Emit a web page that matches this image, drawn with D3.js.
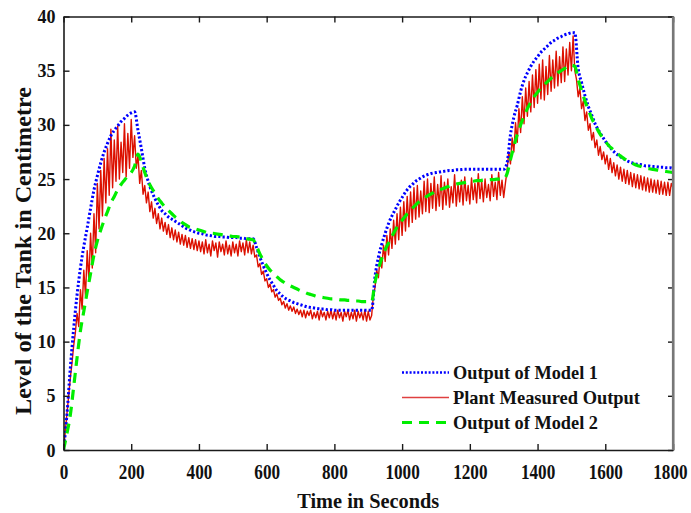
<!DOCTYPE html>
<html>
<head>
<meta charset="utf-8">
<script src="https://cdn.jsdelivr.net/npm/d3@7"></script>
<style>
  html, body { margin: 0; padding: 0; background: #fff; }
  svg { display: block; }
  text { font-family: "Liberation Serif", "Times New Roman", serif; font-weight: bold; fill: #111; }
</style>
</head>
<body>
<svg id="chart" width="691" height="513"></svg>
<script>
// ---------------- DATA ----------------
const xTicks = [0, 200, 400, 600, 800, 1000, 1200, 1400, 1600, 1800];
const yTicks = [0, 5, 10, 15, 20, 25, 30, 35, 40];
const xTitle = "Time in Seconds";
const yTitle = "Level of the Tank in Centimetre";
const seriesNames = ["Output of Model 1", "Plant Measured Output", "Output of Model 2"];

// model sample times (s) and plant sample times (s)
const modelTime = d3.range(0, 1801, 10);
const plantTime = d3.range(0, 1801, 5);

// Output of Model 1 (every 10 s)
const model1 = [
  0, 3.2, 7.5, 11.2, 14.3, 16.8, 18.8, 20.5, 22.3, 24.0,
  25.3, 26.5, 27.5, 28.3, 29.0, 29.5, 29.9, 30.3, 30.6, 30.9,
  31.1, 31.2, 29.5, 27.8, 26.0, 24.8, 23.9, 23.2, 22.6, 22.1,
  21.8, 21.5, 21.3, 21.1, 20.9, 20.7, 20.5, 20.35, 20.2, 20.1,
  20.0, 19.95, 19.85, 19.8, 19.75, 19.7, 19.7, 19.65, 19.65, 19.6,
  19.6, 19.6, 19.55, 19.55, 19.5, 19.5, 19.5, 18.7, 17.8, 17.0,
  16.3, 15.7, 15.2, 14.7, 14.4, 14.1, 13.9, 13.75, 13.6, 13.5,
  13.4, 13.3, 13.2, 13.15, 13.1, 13.05, 13.0, 13.0, 12.95, 12.95,
  12.9, 12.9, 12.9, 12.9, 12.9, 12.9, 12.9, 12.9, 12.9, 12.9,
  12.9, 12.9, 16.0, 17.8, 19.0, 20.0, 20.9, 21.6, 22.2, 22.8,
  23.3, 23.8, 24.2, 24.5, 24.8, 25.0, 25.2, 25.35, 25.45, 25.55,
  25.6, 25.65, 25.7, 25.75, 25.8, 25.8, 25.85, 25.85, 25.9, 25.9,
  25.9, 25.9, 25.9, 25.9, 25.9, 25.9, 25.9, 25.9, 25.9, 25.9,
  25.9, 26.5, 29.1, 30.7, 31.8, 33.1, 34.1, 34.8, 35.4, 35.9,
  36.3, 36.7, 37.0, 37.3, 37.6, 37.8, 38.0, 38.15, 38.3, 38.4,
  38.5, 38.5, 35.2, 33.9, 32.7, 31.7, 30.9, 30.1, 29.5, 29.0,
  28.5, 28.1, 27.7, 27.4, 27.15, 26.95, 26.75, 26.6, 26.5, 26.4,
  26.35, 26.3, 26.2, 26.2, 26.15, 26.15, 26.1, 26.1, 26.05, 26.05,
  26.0
];

// Output of Model 2 (every 10 s)
const model2 = [
  0, 1.5, 3.2, 5.8, 8.5, 11.0, 12.8, 14.6, 16.3, 18.0,
  19.3, 20.3, 21.2, 22.0, 22.8, 23.4, 24.0, 24.5, 24.9, 25.3,
  25.6, 26.2, 27.3, 26.6, 25.6, 24.8, 24.2, 23.7, 23.2, 22.8,
  22.4, 22.1, 21.8, 21.5, 21.3, 21.0, 20.8, 20.6, 20.5, 20.4,
  20.3, 20.2, 20.1, 20.0, 20.0, 19.95, 19.9, 19.85, 19.8, 19.75,
  19.7, 19.7, 19.65, 19.6, 19.5, 19.45, 19.4, 18.8, 18.1, 17.5,
  17.0, 16.6, 16.3, 16.0, 15.7, 15.5, 15.3, 15.15, 15.0, 14.85,
  14.7, 14.6, 14.45, 14.35, 14.25, 14.15, 14.1, 14.05, 14.0, 13.95,
  13.95, 13.9, 13.85, 13.85, 13.8, 13.8, 13.75, 13.75, 13.7, 13.7,
  13.7, 13.7, 15.5, 16.7, 17.7, 18.5, 19.1, 19.7, 20.3, 20.8,
  21.2, 21.6, 22.0, 22.3, 22.6, 22.9, 23.1, 23.35, 23.55, 23.7,
  23.9, 24.0, 24.1, 24.25, 24.35, 24.45, 24.55, 24.6, 24.65, 24.7,
  24.75, 24.8, 24.85, 24.85, 24.9, 24.9, 24.95, 24.95, 25.0, 25.0,
  25.0, 25.5, 26.8, 28.0, 29.1, 30.0, 30.8, 31.5, 32.1, 32.6,
  33.0, 33.4, 33.7, 34.0, 34.3, 34.55, 34.8, 35.0, 35.2, 35.4,
  35.5, 35.4, 34.2, 33.2, 32.2, 31.4, 30.6, 30.0, 29.4, 28.9,
  28.5, 28.1, 27.8, 27.5, 27.25, 27.0, 26.8, 26.6, 26.45, 26.3,
  26.2, 26.1, 26.0, 25.95, 25.9, 25.85, 25.8, 25.75, 25.7, 25.65,
  25.6
];

// Plant Measured Output (every 5 s)
const plant = [
  0, 1.6, 3.3, 4.9, 6.6, 8.0, 9.6, 10.8, 12.6, 11.4, 14.8, 13.0, 16.6, 14.2, 18.4, 15.6, 20.0, 16.8, 21.8, 18.2,
  24.6, 20.4, 25.8, 21.6, 26.9, 22.8, 27.8, 23.5, 29.6, 24.2, 28.6, 24.8, 29.9, 25.0, 28.4, 25.6, 30.1, 25.2, 29.2, 26.0,
  30.5, 27.0, 29.0, 26.0, 27.2, 24.6, 25.8, 23.6, 24.4, 22.8, 23.8, 22.0, 22.9, 21.4, 22.3, 20.9, 21.8, 20.4, 21.4, 20.2,
  21.0, 19.9, 20.8, 19.6, 20.5, 19.4, 20.3, 19.2, 20.1, 19.0, 19.9, 18.9, 19.8, 18.7, 19.6, 18.6, 19.5, 18.5, 19.4, 18.4,
  19.3, 18.3, 19.2, 18.1, 19.4, 18.2, 19.0, 17.9, 19.3, 18.4, 19.1, 17.8, 19.2, 18.3, 19.0, 18.0, 19.3, 18.1, 18.9, 17.9,
  19.2, 18.2, 19.0, 17.9, 19.3, 18.3, 19.1, 18.0, 19.4, 18.2, 19.2, 18.1, 18.9, 17.8, 18.0, 16.9, 17.2, 16.2, 16.5, 15.6,
  15.8, 15.0, 15.3, 14.6, 14.8, 14.1, 14.4, 13.8, 14.0, 13.4, 13.7, 13.1, 13.5, 12.9, 13.3, 12.8, 13.2, 12.6, 13.0, 12.5,
  12.9, 12.3, 12.9, 12.2, 12.8, 12.4, 12.9, 12.1, 12.7, 12.2, 12.8, 12.0, 12.9, 12.3, 12.7, 12.0, 12.8, 12.2, 12.9, 12.1,
  12.8, 12.0, 12.9, 12.2, 12.7, 11.9, 12.8, 12.3, 12.9, 12.0, 12.7, 12.1, 12.9, 11.9, 12.8, 12.2, 12.7, 12.0, 12.9, 11.9,
  12.8, 12.0, 12.4, 14.2, 15.0, 16.6, 15.9, 17.8, 16.8, 18.9, 17.4, 19.8, 18.0, 20.4, 18.6, 21.2, 19.0, 21.8, 19.4, 22.4,
  19.8, 22.9, 20.2, 23.4, 20.6, 23.8, 21.0, 24.2, 21.3, 24.4, 21.5, 23.9, 21.8, 24.8, 22.0, 25.0, 21.9, 24.6, 22.3, 25.2,
  22.1, 24.5, 22.5, 25.3, 22.2, 24.7, 22.6, 25.0, 22.4, 24.3, 22.8, 25.4, 22.5, 24.6, 22.9, 24.9, 22.6, 25.2, 23.0, 24.4,
  22.7, 25.1, 23.1, 24.6, 22.8, 25.5, 23.2, 24.8, 22.9, 25.0, 23.3, 24.5, 23.0, 25.4, 23.4, 24.7, 23.1, 25.6, 23.5, 24.9,
  23.3, 24.6, 25.8, 27.5, 26.4, 28.8, 27.5, 30.2, 28.4, 31.5, 29.3, 32.6, 30.1, 33.4, 30.8, 34.0, 31.2, 34.6, 31.6, 35.1,
  32.0, 35.6, 32.4, 36.0, 32.3, 35.4, 32.8, 36.4, 33.1, 36.0, 33.4, 36.8, 33.6, 36.3, 33.9, 37.2, 34.0, 37.0, 34.6, 37.6,
  35.0, 38.2, 35.0, 34.2, 32.6, 33.4, 31.5, 32.2, 30.4, 31.2, 29.5, 30.1, 28.6, 29.3, 27.9, 28.6, 27.2, 28.0, 26.8, 27.5,
  26.4, 27.2, 25.9, 26.9, 25.6, 26.5, 25.3, 26.3, 25.0, 26.1, 24.8, 25.9, 24.6, 25.8, 24.5, 25.6, 24.3, 25.5, 24.2, 25.4,
  24.1, 25.3, 24.0, 25.2, 23.9, 25.1, 23.8, 25.0, 23.8, 24.9, 23.7, 24.9, 23.6, 24.8, 23.6, 24.7, 23.5, 24.7, 23.5, 24.6,
  24.2
];

// ---------------- LAYOUT ----------------
const svg = d3.select("#chart");
const L = 63.5, R = 673, T = 16.5, B = 450;

const x = d3.scaleLinear().domain([0, 1800]).range([L, R]);
const y = d3.scaleLinear().domain([0, 40]).range([B, T]);

svg.append("clipPath").attr("id", "clip")
  .append("rect").attr("x", L).attr("y", T).attr("width", R - L).attr("height", B - T);

const plotG = svg.append("g").attr("clip-path", "url(#clip)");

const line = d3.line().x(d => x(d[0])).y(d => y(d[1]));

plotG.append("path")
  .datum(plantTime.map((t, i) => [t, plant[i]]))
  .attr("d", line)
  .attr("fill", "none")
  .attr("stroke", "#dc1000")
  .attr("stroke-width", 1.4)
  .attr("stroke-linejoin", "round");

plotG.append("path")
  .datum(modelTime.map((t, i) => [t, model1[i]]))
  .attr("d", line.curve(d3.curveMonotoneX))
  .attr("fill", "none")
  .attr("stroke", "#0000ff")
  .attr("stroke-width", 3)
  .attr("stroke-dasharray", "2.2,2.1");

plotG.append("path")
  .datum(modelTime.map((t, i) => [t, model2[i]]))
  .attr("d", line.curve(d3.curveMonotoneX))
  .attr("fill", "none")
  .attr("stroke", "#00ee00")
  .attr("stroke-width", 3.2)
  .attr("stroke-dasharray", "10,7");

// ---------------- AXES ----------------
const axisG = svg.append("g");
const fmt = d3.format("d");

const xAxis = axisG.append("g").attr("transform", `translate(0,${B})`)
  .call(d3.axisBottom(x).tickValues(xTicks).tickFormat(fmt).tickSizeInner(-6).tickSizeOuter(0).tickPadding(13));
const yAxis = axisG.append("g").attr("transform", `translate(${L},0)`)
  .call(d3.axisLeft(y).tickValues(yTicks).tickFormat(fmt).tickSizeInner(-6).tickSizeOuter(0).tickPadding(8));
axisG.append("g").attr("transform", `translate(0,${T})`)
  .call(d3.axisTop(x).tickValues(xTicks).tickSizeInner(-6).tickSizeOuter(0).tickFormat(""));
axisG.append("g").attr("transform", `translate(${R},0)`)
  .call(d3.axisRight(y).tickValues(yTicks).tickSizeInner(-5).tickSizeOuter(0).tickFormat(""));

axisG.selectAll(".domain").attr("stroke", "#1a1a1a").attr("stroke-width", 1.6);
axisG.selectAll(".tick line").attr("stroke", "#1a1a1a").attr("stroke-width", 1.4);

// x labels: tall, narrow bold digits (horizontally condensed)
xAxis.selectAll("text")
  .attr("font-size", 22)
  .attr("fill", "#111")
  .style("font-family", '"Liberation Serif", serif')
  .style("font-weight", "bold")
  .attr("transform", "scale(0.78,1)");
// last label ends just inside the canvas, as in the reference
xAxis.selectAll(".tick").filter(d => d === 1800).select("text")
  .attr("text-anchor", "end").attr("x", 18);

yAxis.selectAll("text")
  .attr("font-size", 19)
  .attr("fill", "#111")
  .style("font-family", '"Liberation Serif", serif')
  .style("font-weight", "bold")
  .attr("textLength", d => fmt(d).length * 9)
  .attr("lengthAdjust", "spacingAndGlyphs");

// right border slightly grey and thicker, like the reference
svg.append("line").attr("x1", R).attr("x2", R).attr("y1", T).attr("y2", B)
  .attr("stroke", "#777").attr("stroke-width", 2.2);

// ---------------- TITLES ----------------
svg.append("text")
  .attr("x", (L + R) / 2).attr("y", 508)
  .attr("text-anchor", "middle")
  .attr("font-size", 21)
  .attr("textLength", 142).attr("lengthAdjust", "spacingAndGlyphs")
  .text(xTitle);

svg.append("text")
  .attr("transform", "translate(31,251) rotate(-90)")
  .attr("text-anchor", "middle")
  .attr("font-size", 23)
  .attr("textLength", 328).attr("lengthAdjust", "spacingAndGlyphs")
  .text(yTitle);

// ---------------- LEGEND ----------------
const legendRows = [
  { name: seriesNames[0], color: "#0000ff", width: 2.6, dash: "2,1.8", y: 372.5, len: 145 },
  { name: seriesNames[1], color: "#e04040", width: 1.5, dash: null, y: 397.5, len: 187 },
  { name: seriesNames[2], color: "#00ee00", width: 3.2, dash: "10,7", y: 422.5, len: 145 }
];
const lg = svg.append("g");
legendRows.forEach(r => {
  lg.append("line")
    .attr("x1", 402).attr("x2", 449).attr("y1", r.y).attr("y2", r.y)
    .attr("stroke", r.color).attr("stroke-width", r.width)
    .attr("stroke-dasharray", r.dash);
  lg.append("text")
    .attr("x", 453).attr("y", r.y + 6)
    .attr("font-size", 19)
    .attr("textLength", r.len).attr("lengthAdjust", "spacingAndGlyphs")
    .text(r.name);
});
</script>
</body>
</html>
